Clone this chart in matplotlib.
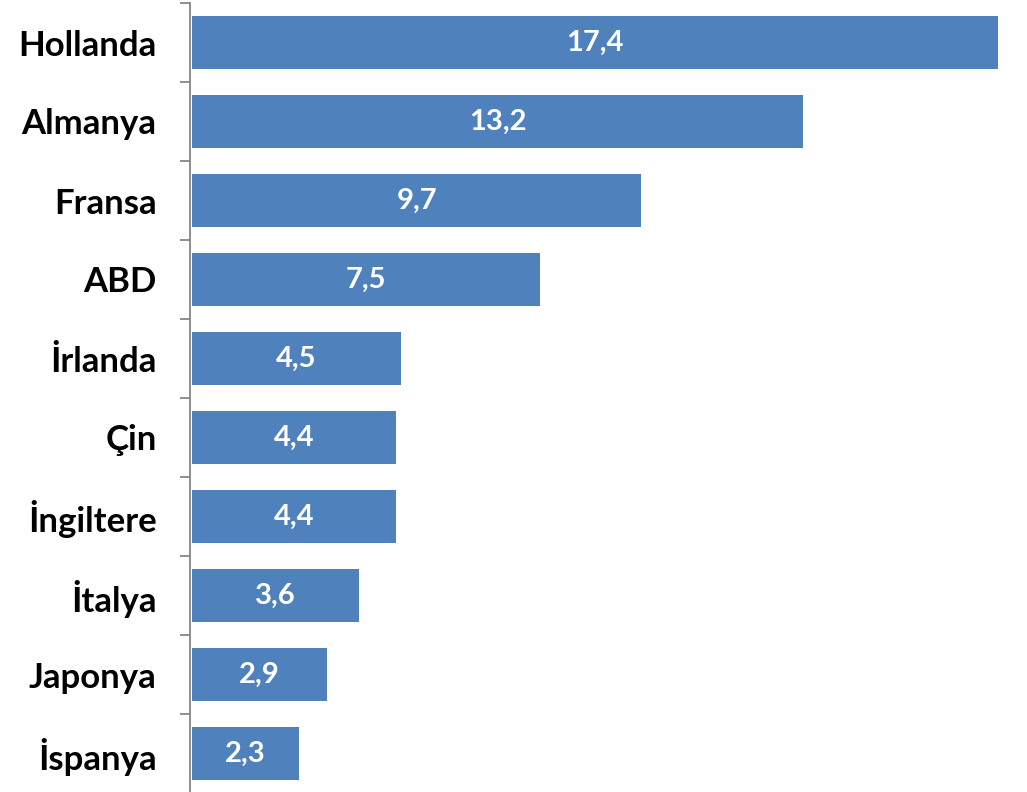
import matplotlib
matplotlib.use("Agg")
import matplotlib.pyplot as plt
import numpy as np

countries = ["Hollanda", "Almanya", "Fransa", "ABD", "İrlanda", "Çin",
             "İngiltere", "İtalya", "Japonya", "İspanya"]
values = [17.4, 13.2, 9.7, 7.5, 4.5, 4.4, 4.4, 3.6, 2.9, 2.3]

BAR_COLOR = "#4F81BD"
AXIS_COLOR = "#868686"

plt.rcParams["font.family"] = ["Lato", "DejaVu Sans"]

fig = plt.figure(figsize=(10.27, 7.92), dpi=100)
ax = fig.add_axes([190 / 1027, -1 / 792, 837 / 1027, 790 / 792])

y = np.arange(len(countries))
ax.barh(y, values, height=0.66, color=BAR_COLOR)

for yi, v in zip(y, values):
    ax.text(v / 2, yi, f"{v:.1f}".replace(".", ","), ha="center", va="center",
            color="white", fontsize=21, fontweight="bold")

ax.set_xlim(-0.05, -0.05 + 837 / 46.3)
ax.set_ylim(len(countries) - 0.5, -0.5)

ax.set_yticks(y)
ax.set_yticklabels(countries, fontsize=25, fontweight="bold")
ax.tick_params(axis="y", which="major", length=0, pad=24)
ax.set_yticks(np.arange(-0.5, len(countries), 1), minor=True)
ax.tick_params(axis="y", which="minor", length=7.5, width=1.3, color=AXIS_COLOR)
ax.set_xticks([])

for side in ["top", "right", "bottom"]:
    ax.spines[side].set_visible(False)
ax.spines["left"].set_color(AXIS_COLOR)
ax.spines["left"].set_linewidth(1.3)

fig.savefig("out.png", dpi=100)
